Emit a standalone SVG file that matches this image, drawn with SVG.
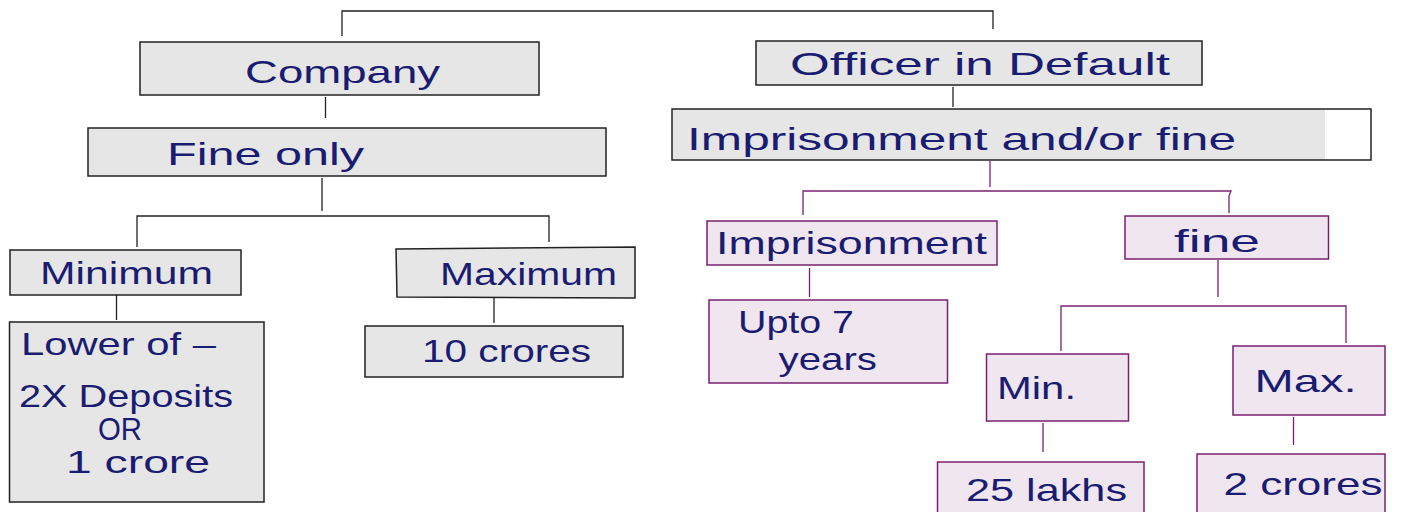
<svg xmlns="http://www.w3.org/2000/svg" width="1402" height="512" viewBox="0 0 1402 512">
<style>
.g{fill:#e6e6e6;stroke:#222;stroke-width:1.5}
.p{fill:#f0e6f0;stroke:#7a2070;stroke-width:1.5}
.lk{fill:none;stroke:#222;stroke-width:1.3}
.lp{fill:none;stroke:#7a2070;stroke-width:1.3}
text{font-family:"Liberation Sans","DejaVu Sans",sans-serif;fill:#1a1c72;font-size:32px}
</style>
<rect width="1402" height="512" fill="#fff"/>
<g id="connectors">
<path class="lk" d="M342 36V11H993V29"/>
<path class="lk" d="M325.5 97V118"/>
<path class="lk" d="M322 178V211"/>
<path class="lk" d="M137 247V216H549V242"/>
<path class="lk" d="M116.5 295V320"/>
<path class="lk" d="M494 298V323"/>
<path class="lk" d="M953 87V107"/>
<path class="lp" d="M990 161V187"/>
<path class="lp" d="M803 215V191H1231L1229 196V213"/>
<path class="lp" d="M809.5 268V297"/>
<path class="lp" d="M1218 260V297"/>
<path class="lp" d="M1061 351V306H1346V343"/>
<path class="lp" d="M1043 423V452"/>
<path class="lp" d="M1293.5 417V445"/>
</g>
<g id="company">
<rect class="g" x="140" y="42" width="399" height="53"/>
<text x="245" y="83" textLength="195" lengthAdjust="spacingAndGlyphs">Company</text>
</g>
<g id="fine-only">
<rect class="g" x="88" y="128" width="518" height="48"/>
<text x="167" y="165" textLength="197" lengthAdjust="spacingAndGlyphs">Fine only</text>
</g>
<g id="minimum">
<rect class="g" x="10" y="250" width="231" height="45"/>
<text x="40" y="284" textLength="173" lengthAdjust="spacingAndGlyphs">Minimum</text>
</g>
<g id="lower-of">
<rect class="g" x="9.5" y="322" width="254.5" height="180"/>
<text x="21" y="355" font-size="28" textLength="195" lengthAdjust="spacingAndGlyphs">Lower of –</text>
<text x="19" y="407" font-size="28" textLength="214" lengthAdjust="spacingAndGlyphs">2X Deposits</text>
<text x="98" y="440" font-size="26" textLength="44" lengthAdjust="spacingAndGlyphs">OR</text>
<text x="66" y="473" font-size="28" textLength="144" lengthAdjust="spacingAndGlyphs">1 crore</text>
</g>
<g id="maximum">
<path class="g" d="M396 249L635 247V298L397 297Z"/>
<text x="440" y="285" textLength="177" lengthAdjust="spacingAndGlyphs">Maximum</text>
</g>
<g id="ten-crores">
<rect class="g" x="365" y="326" width="258" height="51"/>
<text x="422" y="362" font-size="28" textLength="169" lengthAdjust="spacingAndGlyphs">10 crores</text>
</g>
<g id="officer">
<rect class="g" x="756" y="41" width="446" height="44"/>
<text x="790" y="75" textLength="380" lengthAdjust="spacingAndGlyphs">Officer in Default</text>
</g>
<g id="imprisonment-fine">
<rect x="672" y="109" width="699" height="51" fill="#fff"/>
<rect x="672" y="109" width="653" height="51" fill="#e6e6e6"/>
<rect x="672" y="109" width="699" height="51" fill="none" stroke="#222" stroke-width="1.5"/>
<text x="687" y="150" textLength="549" lengthAdjust="spacingAndGlyphs">Imprisonment and/or fine</text>
</g>
<g id="imprisonment">
<rect class="p" x="707" y="221" width="290" height="44"/>
<text x="716" y="254" textLength="271" lengthAdjust="spacingAndGlyphs">Imprisonment</text>
</g>
<g id="fine">
<rect class="p" x="1125" y="216" width="203.5" height="43"/>
<text x="1174" y="252" textLength="86" lengthAdjust="spacingAndGlyphs">fine</text>
</g>
<g id="upto-7">
<rect class="p" x="709" y="300" width="238.5" height="83"/>
<text x="738" y="333" font-size="30" textLength="116" lengthAdjust="spacingAndGlyphs">Upto 7</text>
<text x="778.5" y="370" font-size="30" textLength="98.5" lengthAdjust="spacingAndGlyphs">years</text>
</g>
<g id="min">
<rect class="p" x="986.5" y="354" width="142" height="67"/>
<text x="997" y="399" font-size="30" textLength="79" lengthAdjust="spacingAndGlyphs">Min.</text>
</g>
<g id="max">
<rect class="p" x="1233" y="346" width="152" height="69"/>
<text x="1254.5" y="392" font-size="30" textLength="102" lengthAdjust="spacingAndGlyphs">Max.</text>
</g>
<g id="lakhs">
<rect class="p" x="937.5" y="462" width="206.5" height="60"/>
<text x="966" y="501" font-size="30" textLength="161" lengthAdjust="spacingAndGlyphs">25 lakhs</text>
</g>
<g id="two-crores">
<rect class="p" x="1197" y="454" width="188" height="68"/>
<text x="1223.5" y="495" font-size="30" textLength="159" lengthAdjust="spacingAndGlyphs">2 crores</text>
</g>
</svg>
